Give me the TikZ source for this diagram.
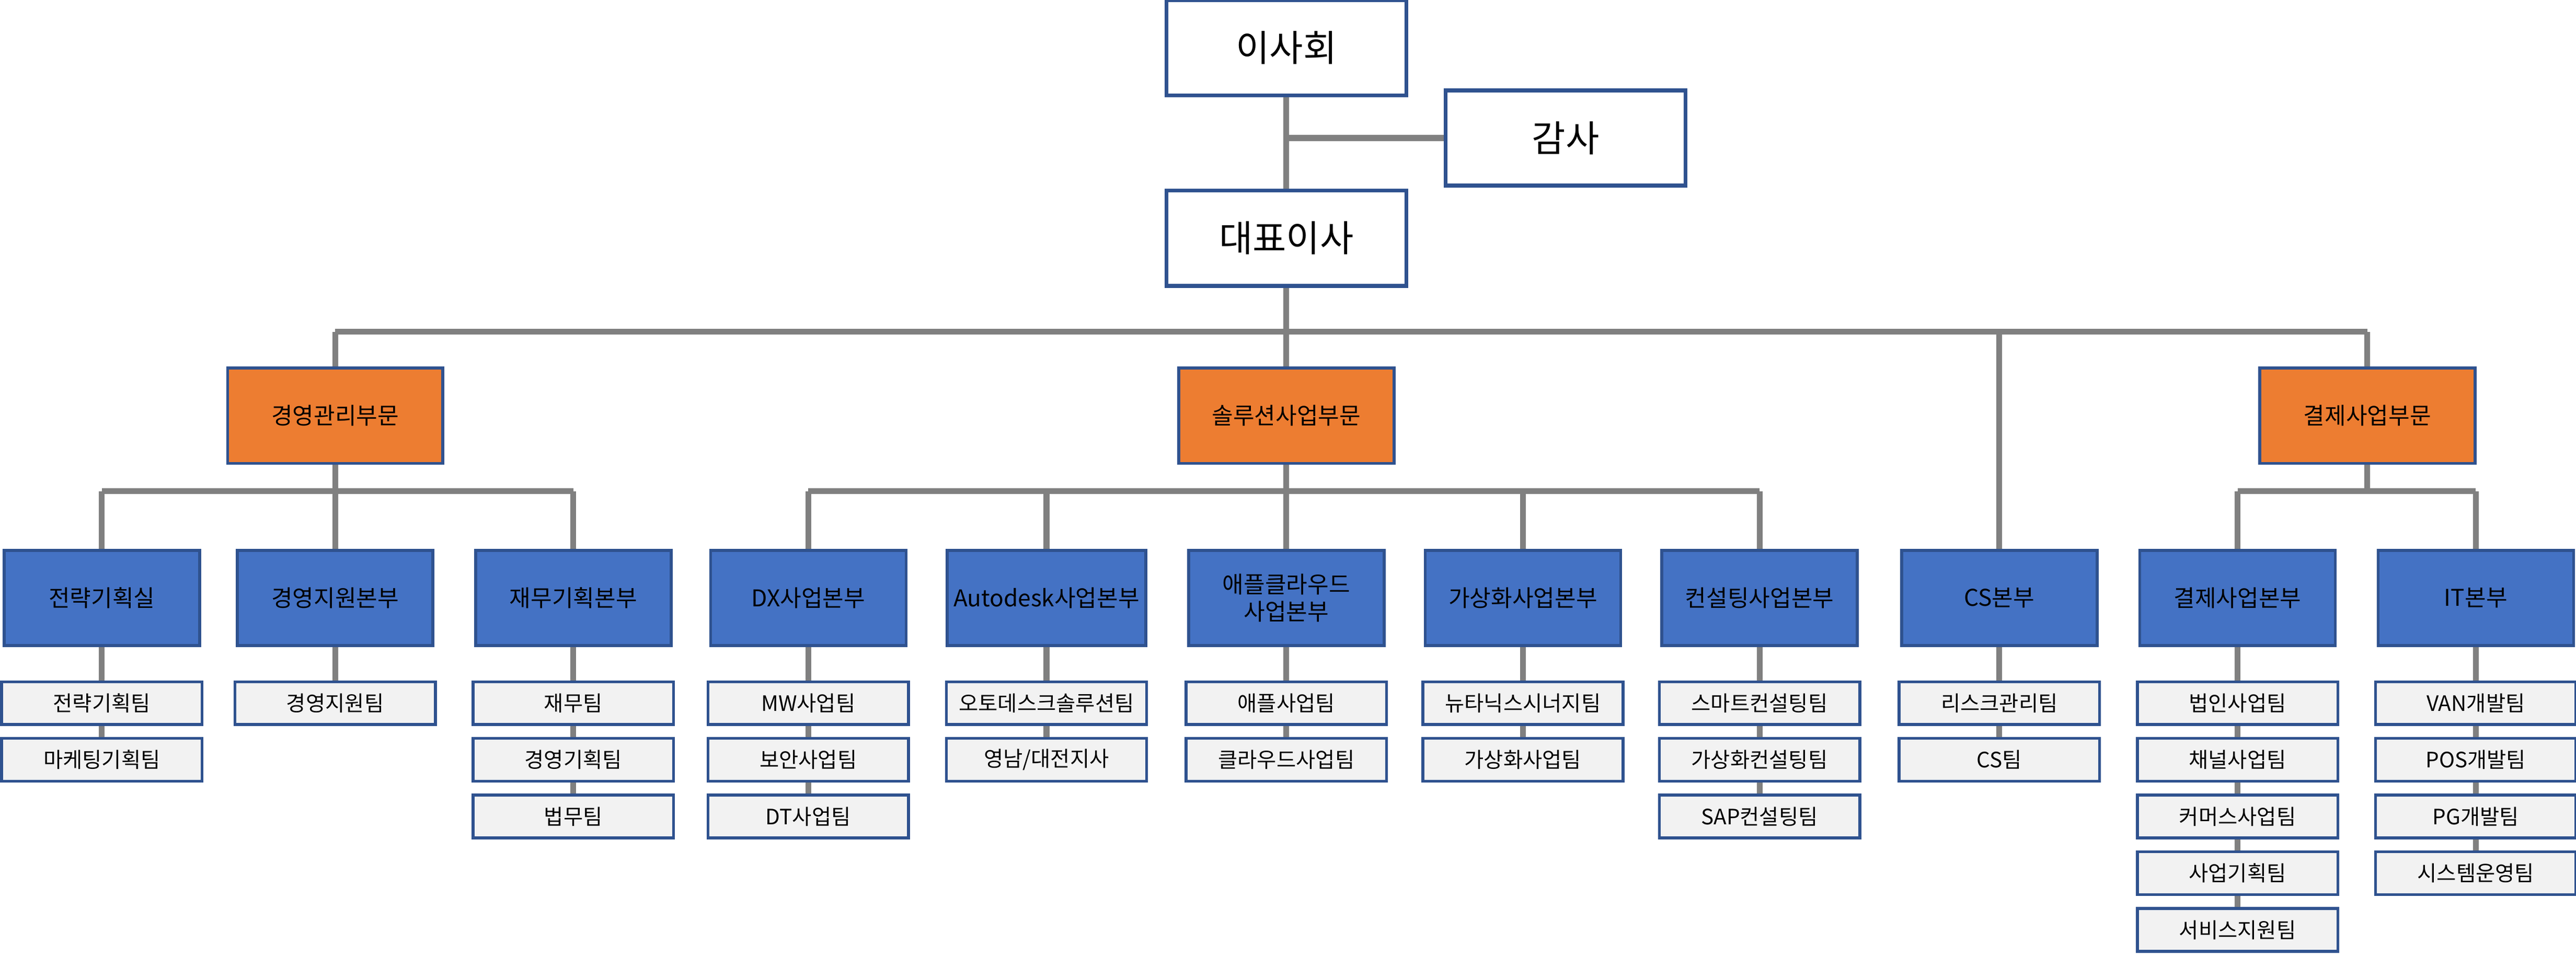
\documentclass[tikz,border=0pt]{standalone}
\usepackage{fontspec}
\setmainfont{Noto Sans CJK KR}
\usetikzlibrary{positioning,calc,backgrounds}
\definecolor{edgeblue}{HTML}{2F528F}
\definecolor{deptblue}{HTML}{4472C4}
\definecolor{divorange}{HTML}{ED7D31}
\definecolor{teamgray}{HTML}{F2F2F2}
\definecolor{linegray}{HTML}{808080}
\tikzset{%
  topbox/.style={draw=edgeblue, line width=2pt, fill=white, minimum width=4.38cm, minimum height=1.74cm, font=\fontsize{19}{22}\selectfont},
  divbox/.style={draw=edgeblue, line width=1.5pt, fill=divorange, minimum width=3.93cm, minimum height=1.74cm, font=\fontsize{12}{14}\selectfont},
  deptbox/.style={draw=edgeblue, line width=1.5pt, fill=deptblue, minimum width=3.57cm, minimum height=1.74cm, align=center, font=\fontsize{12}{14}\selectfont},
  teambox/.style={draw=edgeblue, line width=1.5pt, fill=teamgray, minimum width=3.66cm, minimum height=0.78cm, font=\fontsize{11}{13}\selectfont},
  myline/.style={draw=linegray, line width=3pt}
}
\begin{document}
\begin{tikzpicture}
  \useasboundingbox (0,0) rectangle (47.04,-17.43);
  % top
  \node[topbox] (board) at (23.49,-0.87) {이사회};
  \node[topbox] (audit) at (28.59,-2.52) {감사};
  \node[topbox] (ceo) at (23.49,-4.35) {대표이사};
  % divisions
  \node[divbox] (div1) at (6.12,-7.59) {경영관리부문};
  \node[divbox] (div2) at (23.49,-7.59) {솔루션사업부문};
  \node[divbox] (div3) at (43.23,-7.59) {결제사업부문};
  % departments with their teams
  \foreach \name/\x/\txt/\list/\n in {d1/1.86/전략기획실/{전략기획팀,마케팅기획팀}/2,
      d2/6.12/경영지원본부/{경영지원팀}/1,
      d3/10.47/재무기획본부/{재무팀,경영기획팀,법무팀}/3,
      d4/14.76/DX사업본부/{MW사업팀,보안사업팀,DT사업팀}/3,
      d5/19.11/Autodesk사업본부/{오토데스크솔루션팀,영남/대전지사}/2,
      d6/23.49/{애플클라우드\\사업본부}/{애플사업팀,클라우드사업팀}/2,
      d7/27.81/가상화사업본부/{뉴타닉스시너지팀,가상화사업팀}/2,
      d8/32.13/컨설팅사업본부/{스마트컨설팅팀,가상화컨설팅팀,SAP컨설팅팀}/3,
      d9/36.51/CS본부/{리스크관리팀,CS팀}/2,
      d10/40.86/결제사업본부/{법인사업팀,채널사업팀,커머스사업팀,사업기획팀,서비스지원팀}/5,
      d11/45.21/IT본부/{VAN개발팀,POS개발팀,PG개발팀,시스템운영팀}/4}
  {
    \node[deptbox] (\name) at (\x,-10.92) {\txt};
    \foreach \t [count=\i] in \list
      \node[teambox] (\name-\i) at (\x,{-12.84-1.035*(\i-1)}) {\t};
    \begin{scope}[on background layer]
      \draw[myline] (\name.south) -- (\name-\n.north);
    \end{scope}
  }
  % connectors
  \begin{scope}[on background layer]
    \draw[myline] (board.south) -- (ceo.north);
    \draw[myline] (board.south |- audit.west) -- (audit.west);
    \coordinate (bus) at (0,-6.06);
    \draw[myline] (ceo.south) -- (ceo |- bus);
    \draw[myline] (div1 |- bus) -- (div3 |- bus);
    \foreach \n in {div1,div2,div3,d9}
      \draw[myline] (\n |- bus) -- (\n.north);
    \coordinate (sub) at (0,-8.97);
    \foreach \p/\a/\b/\kids in {div1/d1/d3/{d1,d2,d3}, div2/d4/d8/{d4,d5,d6,d7,d8}, div3/d10/d11/{d10,d11}}
    {
      \draw[myline] (\p.south) -- (\p |- sub);
      \draw[myline] (\a |- sub) -- (\b |- sub);
      \foreach \k in \kids
        \draw[myline] (\k |- sub) -- (\k.north);
    }
  \end{scope}
\end{tikzpicture}
\end{document}
